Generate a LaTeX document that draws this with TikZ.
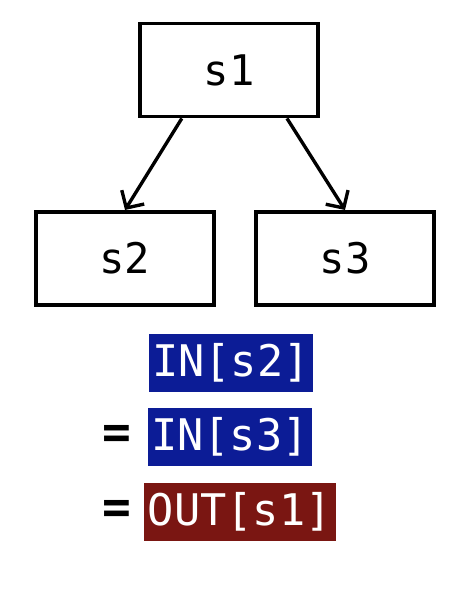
\documentclass[tikz,border=0pt]{standalone}
\usepackage{fontspec}
\setmonofont{DejaVu Sans Mono}
\usepackage{xcolor}
\usepackage{tikz}
\usetikzlibrary{positioning,arrows.meta}
\definecolor{inblue}{RGB}{12,28,150}
\definecolor{outred}{RGB}{122,22,18}
\tikzset{
    flowblock/.style={draw, line width=2.6pt, minimum width=4.45cm, minimum height=2.33cm, font=\ttfamily\fontsize{30}{35}\selectfont},
    flowarrow/.style={draw, line width=2.4pt, -{Straight Barb[length=0.32cm, width=0.66cm, line width=2.4pt]}},
    flowset/.style={inner sep=0pt, minimum height=1.46cm, text=white, font=\ttfamily\fontsize{31}{36}\selectfont},
    flowin/.style={flowset, fill=inblue, minimum width=4.1cm},
    flowout/.style={flowset, fill=outred, minimum width=4.8cm},
    floweq/.style={inner sep=0pt, font=\ttfamily\bfseries\fontsize{34}{38}\selectfont}
}
\begin{document}
\begin{tikzpicture}
    \useasboundingbox (0,0) rectangle (11.8,-14.725);
    \node[flowblock] (s1) at (5.725,-1.75) {s1};
    \node[flowblock] (s2) at (3.125,-6.46) {s2};
    \node[flowblock] (s3) at (8.625,-6.46) {s3};

    \draw[flowarrow] ([xshift=-1.18cm]s1.south) -- (s2.north);
    \draw[flowarrow] ([xshift=1.45cm]s1.south) -- (s3.north);

    \node[flowin] (ins2) at (5.775,-9.075) {IN[s2]};
    \node[flowin, below=0.37cm of ins2.south west, anchor=north west, xshift=-0.03cm] (ins3) {IN[s3]};
    \node[flowout, below=0.4cm of ins3.south west, anchor=north west, xshift=-0.1cm] (outs1) {OUT[s1]};
    \node[floweq, left=0.4cm of ins3] (eqa) {=};
    \node[floweq, left=0.3cm of outs1] (eqb) {=};
\end{tikzpicture}
\end{document}
